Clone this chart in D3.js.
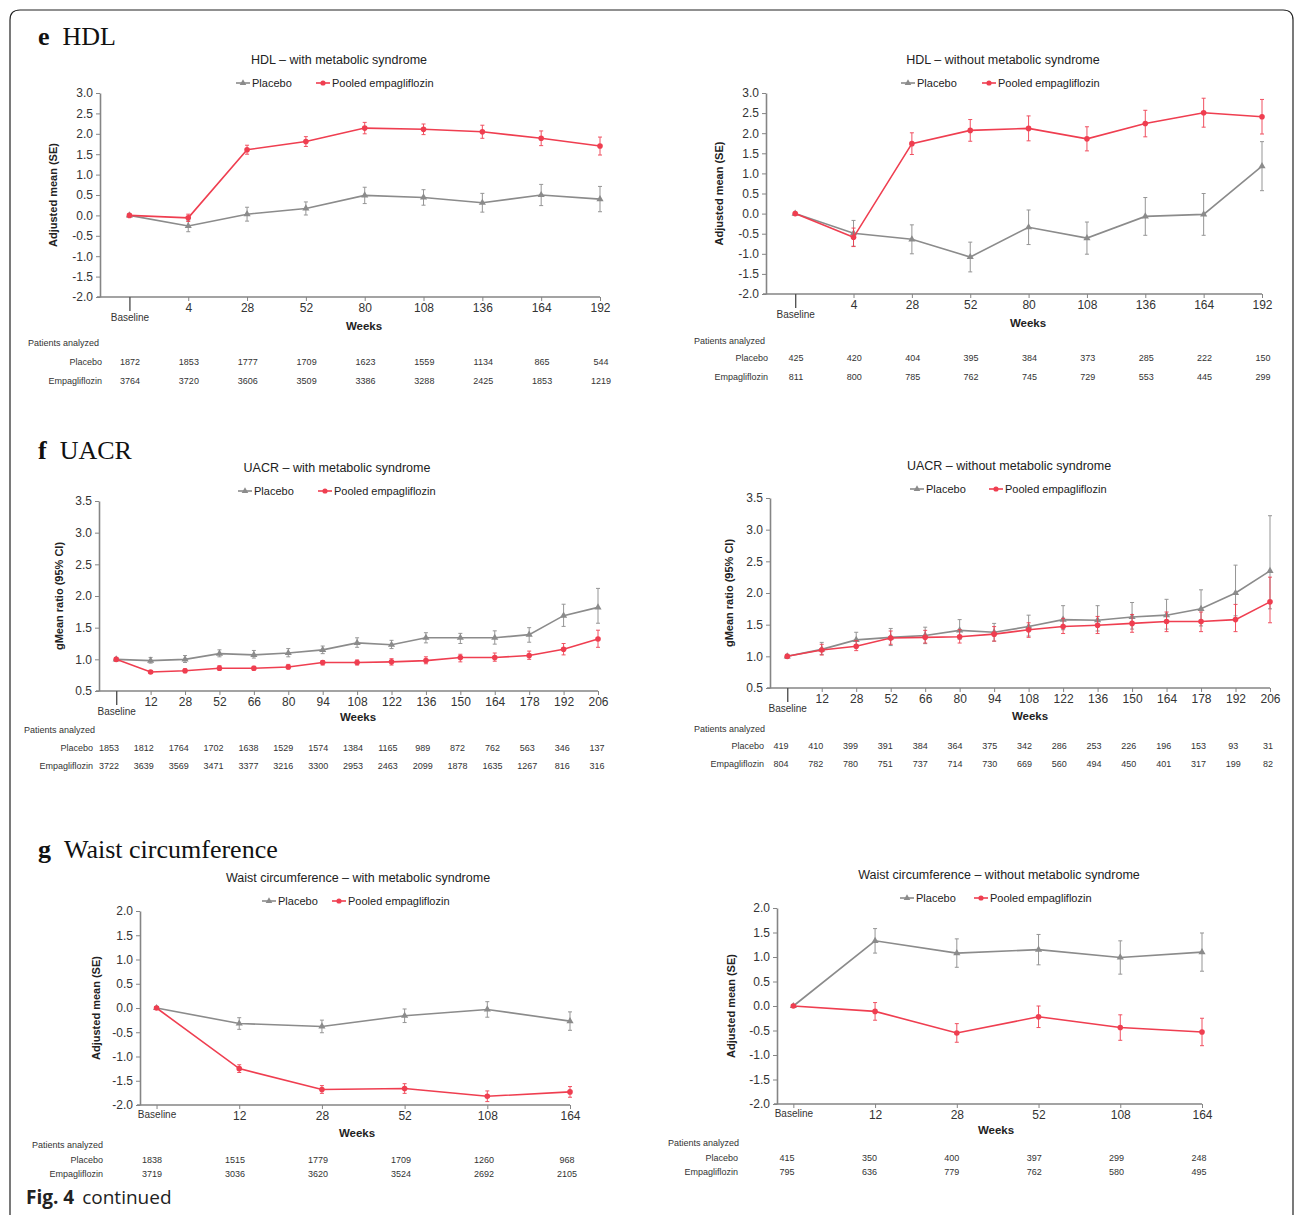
<!DOCTYPE html>
<html>
<head>
<meta charset="utf-8">
<script src="https://cdn.jsdelivr.net/npm/d3@7"></script>
<style>
  body { margin: 0; background: #fff; }
  svg { display: block; font-family: "Liberation Sans", Arial, sans-serif; }
</style>
</head>
<body>
<svg id="fig" width="1295" height="1215"></svg>
<script>
//============================================================
// Data
//------------------------------------------------------------

// e  HDL
var weeksHDL = ["Baseline", "4", "28", "52", "80", "108", "136", "164", "192"];

var hdlMsPlacebo   = [0, -0.26, 0.03, 0.17, 0.49, 0.44, 0.31, 0.50, 0.40];
var hdlMsPlaceboSE = [0.03, 0.14, 0.17, 0.16, 0.20, 0.19, 0.23, 0.26, 0.31];
var hdlMsEmpa      = [0, -0.06, 1.61, 1.81, 2.14, 2.11, 2.05, 1.89, 1.70];
var hdlMsEmpaSE    = [0.03, 0.09, 0.11, 0.12, 0.14, 0.13, 0.16, 0.18, 0.22];
var hdlMsNPlacebo  = [1872, 1853, 1777, 1709, 1623, 1559, 1134, 865, 544];
var hdlMsNEmpa     = [3764, 3720, 3606, 3509, 3386, 3288, 2425, 1853, 1219];

var hdlNoPlacebo   = [0, -0.49, -0.64, -1.08, -0.34, -0.61, -0.07, -0.02, 1.18];
var hdlNoPlaceboSE = [0.03, 0.32, 0.36, 0.37, 0.43, 0.40, 0.47, 0.52, 0.61];
var hdlNoEmpa      = [0, -0.59, 1.74, 2.07, 2.12, 1.86, 2.24, 2.51, 2.41];
var hdlNoEmpaSE    = [0.03, 0.23, 0.27, 0.27, 0.31, 0.30, 0.33, 0.36, 0.43];
var hdlNoNPlacebo  = [425, 420, 404, 395, 384, 373, 285, 222, 150];
var hdlNoNEmpa     = [811, 800, 785, 762, 745, 729, 553, 445, 299];

// f  UACR (gMean ratio with 95% CI)
var weeksUACR = ["Baseline", "12", "28", "52", "66", "80", "94", "108", "122", "136", "150", "164", "178", "192", "206"];

var uacrMsPlacebo   = [1.00, 0.98, 1.00, 1.09, 1.07, 1.10, 1.15, 1.26, 1.23, 1.34, 1.34, 1.34, 1.39, 1.69, 1.82];
var uacrMsPlaceboLo = [0.98, 0.94, 0.95, 1.04, 1.02, 1.04, 1.09, 1.19, 1.17, 1.26, 1.25, 1.24, 1.27, 1.52, 1.57];
var uacrMsPlaceboHi = [1.02, 1.03, 1.06, 1.15, 1.14, 1.17, 1.21, 1.34, 1.30, 1.42, 1.41, 1.45, 1.50, 1.87, 2.12];
var uacrMsEmpa      = [1.00, 0.80, 0.82, 0.86, 0.86, 0.88, 0.95, 0.95, 0.96, 0.98, 1.03, 1.03, 1.06, 1.16, 1.32];
var uacrMsEmpaLo    = [0.97, 0.78, 0.79, 0.83, 0.83, 0.85, 0.91, 0.91, 0.91, 0.93, 0.96, 0.97, 1.00, 1.07, 1.19];
var uacrMsEmpaHi    = [1.03, 0.82, 0.85, 0.90, 0.89, 0.92, 0.98, 0.99, 1.01, 1.04, 1.08, 1.10, 1.13, 1.25, 1.46];
var uacrMsNPlacebo  = [1853, 1812, 1764, 1702, 1638, 1529, 1574, 1384, 1165, 989, 872, 762, 563, 346, 137];
var uacrMsNEmpa     = [3722, 3639, 3569, 3471, 3377, 3216, 3300, 2953, 2463, 2099, 1878, 1635, 1267, 816, 316];

var uacrNoPlacebo   = [1.00, 1.11, 1.26, 1.30, 1.33, 1.41, 1.38, 1.47, 1.58, 1.57, 1.62, 1.65, 1.75, 2.00, 2.35];
var uacrNoPlaceboLo = [0.97, 1.03, 1.18, 1.17, 1.20, 1.27, 1.24, 1.32, 1.42, 1.40, 1.43, 1.43, 1.48, 1.64, 1.75];
var uacrNoPlaceboHi = [1.03, 1.22, 1.38, 1.44, 1.46, 1.58, 1.52, 1.65, 1.80, 1.80, 1.85, 1.90, 2.05, 2.44, 3.22];
var uacrNoEmpa      = [1.00, 1.10, 1.16, 1.29, 1.30, 1.31, 1.35, 1.42, 1.47, 1.49, 1.52, 1.55, 1.55, 1.58, 1.86];
var uacrNoEmpaLo    = [0.97, 1.02, 1.09, 1.19, 1.21, 1.21, 1.24, 1.30, 1.36, 1.36, 1.38, 1.39, 1.39, 1.39, 1.53];
var uacrNoEmpaHi    = [1.03, 1.19, 1.25, 1.40, 1.41, 1.42, 1.47, 1.53, 1.60, 1.63, 1.66, 1.70, 1.70, 1.82, 2.25];
var uacrNoNPlacebo  = [419, 410, 399, 391, 384, 364, 375, 342, 286, 253, 226, 196, 153, 93, 31];
var uacrNoNEmpa     = [804, 782, 780, 751, 737, 714, 730, 669, 560, 494, 450, 401, 317, 199, 82];

// g  Waist circumference
var weeksWaist = ["Baseline", "12", "28", "52", "108", "164"];

var waistMsPlacebo   = [0, -0.32, -0.38, -0.16, -0.03, -0.27];
var waistMsPlaceboSE = [0.03, 0.12, 0.13, 0.14, 0.16, 0.19];
var waistMsEmpa      = [0, -1.25, -1.68, -1.66, -1.82, -1.73];
var waistMsEmpaSE    = [0.03, 0.08, 0.08, 0.10, 0.11, 0.11];
var waistMsNPlacebo  = [1838, 1515, 1779, 1709, 1260, 968];
var waistMsNEmpa     = [3719, 3036, 3620, 3524, 2692, 2105];

var waistNoPlacebo   = [0, 1.33, 1.08, 1.15, 0.99, 1.10];
var waistNoPlaceboSE = [0.03, 0.25, 0.29, 0.31, 0.34, 0.39];
var waistNoEmpa      = [0, -0.11, -0.55, -0.22, -0.44, -0.53];
var waistNoEmpaSE    = [0.03, 0.18, 0.19, 0.22, 0.26, 0.28];
var waistNoNPlacebo  = [415, 350, 400, 397, 299, 248];
var waistNoNEmpa     = [795, 636, 779, 762, 580, 495];

//============================================================
// Styles
//------------------------------------------------------------
var GRAY = "#8b8b8b",
    RED = "#ef3e50",
    AXIS = "#858585",
    TEXT = "#333";

function lower(m, se) { return m.map(function(v, i) { return v - se[i]; }); }
function upper(m, se) { return m.map(function(v, i) { return v + se[i]; }); }

var panels = [
  { title: "HDL \u2013 with metabolic syndrome", titleX: 339, titleY: 60, legY: 83, legPl: 236, legEm: 316,
    x0: 100, x1: 600, yTop: 93, yBot: 297, frac: 0.5, yDomain: [-2, 3], yTitle: "Adjusted mean (SE)", yTitleX: 53,
    weeks: weeksHDL, longBaseline: true,
    pl: hdlMsPlacebo, plLo: lower(hdlMsPlacebo, hdlMsPlaceboSE), plHi: upper(hdlMsPlacebo, hdlMsPlaceboSE),
    em: hdlMsEmpa, emLo: lower(hdlMsEmpa, hdlMsEmpaSE), emHi: upper(hdlMsEmpa, hdlMsEmpaSE),
    nPl: hdlMsNPlacebo, nEm: hdlMsNEmpa,
    weeksX: 364, weeksY: 326, patX: 28, patY: 343, rowRight: 102, rowPlY: 362, rowEmY: 381, tx0: 130, tx1: 601 },
  { title: "HDL \u2013 without metabolic syndrome", titleX: 1003, titleY: 60, legY: 83, legPl: 901, legEm: 982,
    x0: 766, x1: 1262, yTop: 93, yBot: 294, frac: 0.5, yDomain: [-2, 3], yTitle: "Adjusted mean (SE)", yTitleX: 719,
    weeks: weeksHDL, longBaseline: true,
    pl: hdlNoPlacebo, plLo: lower(hdlNoPlacebo, hdlNoPlaceboSE), plHi: upper(hdlNoPlacebo, hdlNoPlaceboSE),
    em: hdlNoEmpa, emLo: lower(hdlNoEmpa, hdlNoEmpaSE), emHi: upper(hdlNoEmpa, hdlNoEmpaSE),
    nPl: hdlNoNPlacebo, nEm: hdlNoNEmpa,
    weeksX: 1028, weeksY: 323, patX: 694, patY: 341, rowRight: 768, rowPlY: 358, rowEmY: 377, tx0: 796, tx1: 1263 },
  { title: "UACR \u2013 with metabolic syndrome", titleX: 337, titleY: 468, legY: 491, legPl: 238, legEm: 318,
    x0: 99, x1: 598, yTop: 501, yBot: 691, frac: 0.5, yDomain: [0.5, 3.5], yTitle: "gMean ratio (95% CI)", yTitleX: 59,
    weeks: weeksUACR, longBaseline: true,
    pl: uacrMsPlacebo, plLo: uacrMsPlaceboLo, plHi: uacrMsPlaceboHi,
    em: uacrMsEmpa, emLo: uacrMsEmpaLo, emHi: uacrMsEmpaHi,
    nPl: uacrMsNPlacebo, nEm: uacrMsNEmpa,
    weeksX: 358, weeksY: 717, patX: 24, patY: 730, rowRight: 93, rowPlY: 748, rowEmY: 766, tx0: 109, tx1: 597 },
  { title: "UACR \u2013 without metabolic syndrome", titleX: 1009, titleY: 466, legY: 489, legPl: 910, legEm: 989,
    x0: 770, x1: 1270, yTop: 498, yBot: 688, frac: 0.5, yDomain: [0.5, 3.5], yTitle: "gMean ratio (95% CI)", yTitleX: 729,
    weeks: weeksUACR, longBaseline: true,
    pl: uacrNoPlacebo, plLo: uacrNoPlaceboLo, plHi: uacrNoPlaceboHi,
    em: uacrNoEmpa, emLo: uacrNoEmpaLo, emHi: uacrNoEmpaHi,
    nPl: uacrNoNPlacebo, nEm: uacrNoNEmpa,
    weeksX: 1030, weeksY: 716, patX: 694, patY: 729, rowRight: 764, rowPlY: 746, rowEmY: 764, tx0: 781, tx1: 1268 },
  { title: "Waist circumference \u2013 with metabolic syndrome", titleX: 358, titleY: 878, legY: 901, legPl: 262, legEm: 332,
    x0: 140, x1: 570, yTop: 911, yBot: 1105, frac: 0.2, yDomain: [-2, 2], yTitle: "Adjusted mean (SE)", yTitleX: 96,
    weeks: weeksWaist, longBaseline: false,
    pl: waistMsPlacebo, plLo: lower(waistMsPlacebo, waistMsPlaceboSE), plHi: upper(waistMsPlacebo, waistMsPlaceboSE),
    em: waistMsEmpa, emLo: lower(waistMsEmpa, waistMsEmpaSE), emHi: upper(waistMsEmpa, waistMsEmpaSE),
    nPl: waistMsNPlacebo, nEm: waistMsNEmpa,
    weeksX: 357, weeksY: 1133, patX: 32, patY: 1145, rowRight: 103, rowPlY: 1160, rowEmY: 1174, tx0: 152, tx1: 567 },
  { title: "Waist circumference \u2013 without metabolic syndrome", titleX: 999, titleY: 875, legY: 898, legPl: 900, legEm: 974,
    x0: 777, x1: 1202, yTop: 908, yBot: 1104, frac: 0.2, yDomain: [-2, 2], yTitle: "Adjusted mean (SE)", yTitleX: 731,
    weeks: weeksWaist, longBaseline: false,
    pl: waistNoPlacebo, plLo: lower(waistNoPlacebo, waistNoPlaceboSE), plHi: upper(waistNoPlacebo, waistNoPlaceboSE),
    em: waistNoEmpa, emLo: lower(waistNoEmpa, waistNoEmpaSE), emHi: upper(waistNoEmpa, waistNoEmpaSE),
    nPl: waistNoNPlacebo, nEm: waistNoNEmpa,
    weeksX: 996, weeksY: 1130, patX: 668, patY: 1143, rowRight: 738, rowPlY: 1158, rowEmY: 1172, tx0: 787, tx1: 1199 }
];

var svg = d3.select("#fig");

// frame of the figure page
svg.append("path")
  .attr("d", "M10,1225V20Q10,10 20,10H1283Q1293,10 1293,20V1225")
  .attr("fill", "none")
  .attr("stroke", "#222")
  .attr("stroke-width", 1.2);

// section headings
var headings = [
  { letter: "e", text: "HDL", x: 38, y: 45 },
  { letter: "f", text: "UACR", x: 38, y: 459 },
  { letter: "g", text: "Waist circumference", x: 38, y: 858 }
];
headings.forEach(function(h) {
  var t = svg.append("text")
    .attr("x", h.x).attr("y", h.y)
    .style("font-family", "'Liberation Serif', 'Times New Roman', serif")
    .style("font-size", "26px")
    .attr("fill", "#111");
  t.append("tspan").style("font-weight", "bold").text(h.letter);
  t.append("tspan").attr("dx", 13).text(h.text);
});

panels.forEach(drawPanel);

// footer
var foot = svg.append("text")
  .attr("x", 26).attr("y", 1204)
  .style("font-family", "'Open Sans', 'Noto Sans', sans-serif")
  .style("font-size", "19px")
  .attr("fill", "#222");
foot.append("tspan").style("font-weight", "bold").text("Fig. 4");
foot.append("tspan").attr("dx", 8).text("continued");

function drawPanel(c) {
  var g = svg.append("g").attr("class", "panel");
  var n = c.weeks.length;
  var step = (c.x1 - c.x0) / (n - 1 + c.frac);

  var x = d3.scalePoint().domain(c.weeks).range([c.x0 + c.frac * step, c.x1]);
  var y = d3.scaleLinear().domain(c.yDomain).range([c.yBot, c.yTop]);
  var tx = d3.scalePoint().domain(c.weeks).range([c.tx0, c.tx1]);

  // title + legend
  g.append("text")
    .attr("x", c.titleX).attr("y", c.titleY).attr("dy", "0.35em")
    .attr("text-anchor", "middle")
    .style("font-size", "12.5px")
    .attr("fill", "#222")
    .text(c.title);

  drawLegendItem(g, c.legPl, c.legY, GRAY, "tri", "Placebo");
  drawLegendItem(g, c.legEm, c.legY, RED, "dot", "Pooled empagliflozin");

  // y axis
  var ticks = d3.range(c.yDomain[0], c.yDomain[1] + 0.001, 0.5);
  var ya = g.append("g")
    .attr("transform", "translate(" + c.x0 + ",0)")
    .call(d3.axisLeft(y).tickValues(ticks)
      .tickFormat(function(d) { return d.toFixed(1); })
      .tickSize(4).tickPadding(3).tickSizeOuter(0));
  ya.select(".domain").attr("stroke", AXIS).attr("stroke-width", 1.6);
  ya.selectAll(".tick line").attr("stroke", AXIS);
  ya.selectAll(".tick text").style("font-size", "12px").attr("fill", TEXT).attr("font-family", null);

  g.append("text")
    .attr("transform", "translate(" + c.yTitleX + "," + ((c.yTop + c.yBot) / 2) + ") rotate(-90)")
    .attr("text-anchor", "middle").attr("dy", "0.35em")
    .style("font-size", "11px").style("font-weight", "bold")
    .attr("fill", "#222")
    .text(c.yTitle);

  // x axis
  var xa = g.append("g")
    .attr("transform", "translate(0," + c.yBot + ")")
    .call(d3.axisBottom(x).tickSize(4).tickPadding(2).tickSizeOuter(0));
  xa.select(".domain")
    .attr("d", "M" + (c.x0 - 3) + ",0H" + c.x1)
    .attr("stroke", AXIS).attr("stroke-width", 1.6);
  xa.selectAll(".tick line").attr("stroke", AXIS);
  xa.selectAll(".tick text").style("font-size", "12px").attr("fill", TEXT).attr("font-family", null);

  var base = xa.selectAll(".tick").filter(function(d) { return d === "Baseline"; });
  base.select("text").style("font-size", "10px");
  if (c.longBaseline) {
    base.select("line").attr("y2", 14).attr("stroke", "#555").attr("stroke-width", 1.4);
    base.select("text").attr("y", 17);
  }

  g.append("text")
    .attr("x", c.weeksX).attr("y", c.weeksY).attr("dy", "0.35em")
    .attr("text-anchor", "middle")
    .style("font-size", "11.5px").style("font-weight", "bold")
    .attr("fill", "#222")
    .text("Weeks");

  // series: placebo under, empagliflozin on top
  drawSeries(g, x, y, c.weeks, c.pl, c.plLo, c.plHi, GRAY, "tri");
  drawSeries(g, x, y, c.weeks, c.em, c.emLo, c.emHi, RED, "dot");

  // patients analyzed table
  g.append("text")
    .attr("x", c.patX).attr("y", c.patY).attr("dy", "0.35em")
    .style("font-size", "9px").attr("fill", TEXT)
    .text("Patients analyzed");

  [["Placebo", c.nPl, c.rowPlY], ["Empagliflozin", c.nEm, c.rowEmY]].forEach(function(row) {
    g.append("text")
      .attr("x", c.rowRight).attr("y", row[2]).attr("dy", "0.35em")
      .attr("text-anchor", "end")
      .style("font-size", "9px").attr("fill", TEXT)
      .text(row[0]);
    g.selectAll(null)
      .data(row[1])
      .enter().append("text")
      .attr("x", function(d, i) { return tx(c.weeks[i]); })
      .attr("y", row[2]).attr("dy", "0.35em")
      .attr("text-anchor", "middle")
      .style("font-size", "9px").attr("fill", TEXT)
      .text(function(d) { return d; });
  });
}

function drawSeries(g, x, y, weeks, mean, lo, hi, color, shape) {
  var pts = weeks.map(function(w, i) { return { w: w, v: mean[i], lo: lo[i], hi: hi[i] }; });
  var s = g.append("g").attr("class", "series");

  var bars = s.selectAll("g.err").data(pts).enter().append("g").attr("class", "err")
    .attr("stroke", color).attr("stroke-width", 1).attr("opacity", 0.9);
  bars.append("line")
    .attr("x1", function(d) { return x(d.w); }).attr("x2", function(d) { return x(d.w); })
    .attr("y1", function(d) { return y(d.lo); }).attr("y2", function(d) { return y(d.hi); });
  bars.append("line")
    .attr("x1", function(d) { return x(d.w) - 2; }).attr("x2", function(d) { return x(d.w) + 2; })
    .attr("y1", function(d) { return y(d.hi); }).attr("y2", function(d) { return y(d.hi); });
  bars.append("line")
    .attr("x1", function(d) { return x(d.w) - 2; }).attr("x2", function(d) { return x(d.w) + 2; })
    .attr("y1", function(d) { return y(d.lo); }).attr("y2", function(d) { return y(d.lo); });

  s.append("path")
    .datum(pts)
    .attr("fill", "none")
    .attr("stroke", color)
    .attr("stroke-width", 1.6)
    .attr("d", d3.line().x(function(d) { return x(d.w); }).y(function(d) { return y(d.v); }));

  drawMarkers(s, pts.map(function(d) { return [x(d.w), y(d.v)]; }), color, shape, 1);
}

function drawMarkers(s, xy, color, shape, scale) {
  if (shape === "tri") {
    s.selectAll(null).data(xy).enter().append("path")
      .attr("transform", function(d) { return "translate(" + d[0] + "," + d[1] + ")"; })
      .attr("d", d3.symbol(d3.symbolTriangle, 22 * scale))
      .attr("fill", color);
  } else {
    s.selectAll(null).data(xy).enter().append("circle")
      .attr("cx", function(d) { return d[0]; }).attr("cy", function(d) { return d[1]; })
      .attr("r", 2.8 * Math.sqrt(scale))
      .attr("fill", color);
  }
}

function drawLegendItem(g, x0, y0, color, shape, label) {
  var it = g.append("g").attr("class", "legend-item");
  it.append("line")
    .attr("x1", x0).attr("x2", x0 + 14)
    .attr("y1", y0).attr("y2", y0)
    .attr("stroke", color).attr("stroke-width", 1.6);
  drawMarkers(it, [[x0 + 7, y0]], color, shape, 0.85);
  it.append("text")
    .attr("x", x0 + 16).attr("y", y0).attr("dy", "0.35em")
    .style("font-size", "11px").attr("fill", "#222")
    .text(label);
}
</script>
</body>
</html>
